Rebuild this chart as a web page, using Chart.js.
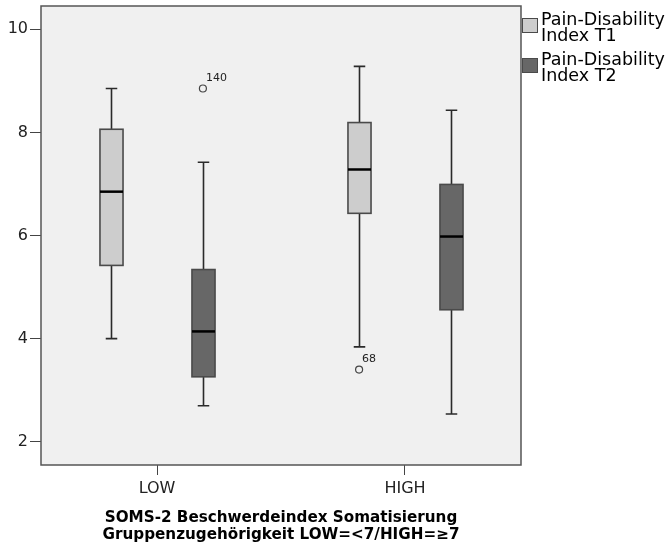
<!DOCTYPE html>
<html>
<head>
<meta charset="utf-8">
<script src="https://cdn.jsdelivr.net/npm/chart.js@4.4.0/dist/chart.umd.min.js"></script>
<style>
  body { margin: 0; background: #fff; }
</style>
</head>
<body>
<canvas id="chart_box" width="672" height="552"></canvas>
<script>
// categories and series
const groups = ['LOW', 'HIGH'];
const seriesNames = [['Pain-Disability', 'Index T1'], ['Pain-Disability', 'Index T2']];

// box stats per group: [whisker low, Q1, median, Q3, whisker high]
const t1Stats = [[4.00, 5.42, 6.85, 8.06, 8.85], [3.84, 6.43, 7.28, 8.19, 9.28]];
const t2Stats = [[2.70, 3.26, 4.14, 5.34, 7.42], [2.54, 4.56, 5.98, 6.99, 8.43]];

// outliers: group index, value, case label
const t1OutGroup = [1];
const t1OutValue = [3.40];
const t1OutLabel = ['68'];
const t2OutGroup = [0];
const t2OutValue = [8.85];
const t2OutLabel = ['140'];

const yTicks = [2, 4, 6, 8, 10];

const FONT = '"DejaVu Sans", sans-serif';
const fills = ['#cdcdcd', '#676767'];
const offsets = [-0.185, 0.185];
const boxW = 0.093;

const series = [
    { stats: t1Stats, og: t1OutGroup, ov: t1OutValue, ol: t1OutLabel },
    { stats: t2Stats, og: t2OutGroup, ov: t2OutValue, ol: t2OutLabel }
];

/* --- fond + boites --- */
const boxPlugin = {
    id: 'boxes',
    beforeDatasetsDraw(chart) {
        const { ctx, chartArea: a, scales: { x, y } } = chart;
        ctx.save();
        ctx.fillStyle = '#f0f0f0';
        ctx.fillRect(a.left, a.top, a.right - a.left, a.bottom - a.top);

        series.forEach((s, si) => {
            s.stats.forEach((st, g) => {
                const cx = Math.round(x.getPixelForValue(g + offsets[si])) + 0.5;
                const hw = (x.getPixelForValue(boxW / 2) - x.getPixelForValue(0));
                const [lo, q1, med, q3, hi] = st.map(v => y.getPixelForValue(v));
                // whiskers
                ctx.strokeStyle = '#2a2a2a';
                ctx.lineWidth = 1.6;
                ctx.beginPath();
                ctx.moveTo(cx, hi); ctx.lineTo(cx, q3);
                ctx.moveTo(cx, q1); ctx.lineTo(cx, lo);
                ctx.moveTo(cx - hw / 2, hi); ctx.lineTo(cx + hw / 2, hi);
                ctx.moveTo(cx - hw / 2, lo); ctx.lineTo(cx + hw / 2, lo);
                ctx.stroke();
                // box
                ctx.fillStyle = fills[si];
                ctx.fillRect(cx - hw, q3, hw * 2, q1 - q3);
                ctx.strokeStyle = '#4a4a4a';
                ctx.lineWidth = 1.6;
                ctx.strokeRect(cx - hw, q3, hw * 2, q1 - q3);
                // median
                ctx.strokeStyle = '#000';
                ctx.lineWidth = 2.5;
                ctx.beginPath();
                ctx.moveTo(cx - hw, med); ctx.lineTo(cx + hw, med);
                ctx.stroke();
            });
        });
        ctx.restore();
    },
    afterDatasetsDraw(chart) {
        const { ctx, chartArea: a, scales: { x, y } } = chart;
        ctx.save();
        // outlier labels
        ctx.fillStyle = '#222';
        ctx.font = '11px ' + FONT;
        ctx.textAlign = 'left';
        ctx.textBaseline = 'alphabetic';
        series.forEach((s, si) => {
            s.og.forEach((g, i) => {
                const px = x.getPixelForValue(g + offsets[si]);
                const py = y.getPixelForValue(s.ov[i]);
                ctx.fillText(s.ol[i], px + 3, py - 8);
            });
        });
        // frame
        ctx.strokeStyle = '#555';
        ctx.lineWidth = 1.5;
        ctx.strokeRect(a.left, a.top, a.right - a.left, a.bottom - a.top);

        // legend
        ctx.font = '17.5px ' + FONT;
        const legTop = [18, 58];
        seriesNames.forEach((lines, si) => {
            const t = legTop[si];
            ctx.fillStyle = fills[si];
            ctx.fillRect(a.right + 1, t, 16, 15);
            ctx.strokeStyle = '#4a4a4a';
            ctx.lineWidth = 1;
            ctx.strokeRect(a.right + 1.5, t + 0.5, 15, 14);
            ctx.fillStyle = '#000';
            lines.forEach((ln, li) => ctx.fillText(ln, a.right + 20, t + 7 + li * 16));
        });
        ctx.restore();
    }
};

const outlierData = (s, si) => s.og.map((g, i) => ({ x: g + offsets[si], y: s.ov[i] }));

new Chart(document.getElementById('chart_box'), {
    type: 'scatter',
    data: {
        datasets: series.map((s, si) => ({
            label: seriesNames[si].join(' '),
            data: outlierData(s, si),
            pointStyle: 'circle',
            pointRadius: 3.5,
            borderColor: '#444',
            backgroundColor: 'transparent',
            borderWidth: 1.2
        }))
    },
    options: {
        responsive: false,
        animation: false,
        layout: { padding: { top: 6, right: 151, left: 0, bottom: 0 } },
        plugins: {
            legend: { display: false },
            tooltip: { enabled: false }
        },
        scales: {
            x: {
                type: 'linear',
                min: -0.468,
                max: 1.468,
                afterBuildTicks: s => { s.ticks = groups.map((_, i) => ({ value: i })); },
                afterFit: s => { s.height = 87; s.paddingLeft = 0; s.paddingRight = 0; },
                ticks: {
                    callback: v => groups[v],
                    color: '#222',
                    font: { family: FONT, size: 16 },
                    padding: 4,
                    maxRotation: 0
                },
                grid: { drawOnChartArea: false, drawTicks: true, tickLength: 10, color: '#444', lineWidth: 1 },
                border: { display: false },
                title: {
                    display: true,
                    text: ['SOMS-2 Beschwerdeindex Somatisierung', 'Gruppenzugehörigkeit LOW=<7/HIGH=≥7'],
                    color: '#000',
                    font: { family: FONT, size: 15.2, weight: 'bold', lineHeight: 1.1 },
                    padding: { top: 0, bottom: 9 }
                }
            },
            y: {
                min: 1.55,
                max: 10.45,
                afterBuildTicks: s => { s.ticks = yTicks.map(v => ({ value: v })); },
                afterFit: s => { s.width = 41; s.paddingTop = 0; s.paddingBottom = 0; },
                ticks: {
                    color: '#222',
                    font: { family: FONT, size: 16 },
                    padding: 2
                },
                grid: { drawOnChartArea: false, drawTicks: true, tickLength: 11, color: '#444', lineWidth: 1 },
                border: { display: false }
            }
        }
    },
    plugins: [boxPlugin]
});
</script>
</body>
</html>
